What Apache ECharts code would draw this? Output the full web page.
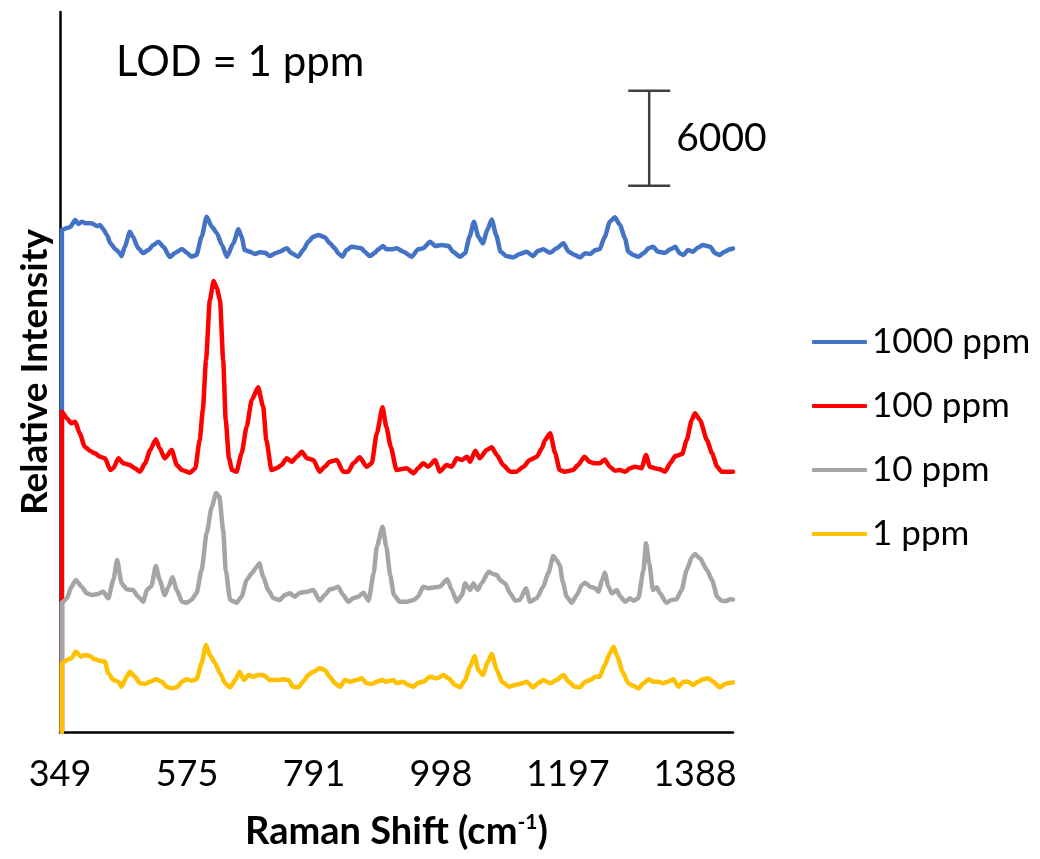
<!DOCTYPE html>
<html>
<head>
<meta charset="utf-8">
<script src="https://cdn.jsdelivr.net/npm/echarts@6/dist/echarts.min.js"></script>
<style>
  html, body { margin: 0; padding: 0; background: #fff; }
  #chart { width: 1040px; height: 859px; }
</style>
</head>
<body>
<div id="chart"></div>
<script>
// ---- Data (x = detector channel, y = relative intensity, offset spectra) ----
const tickLabels = ['349', '575', '791', '998', '1197', '1388'];
const channelsPerLabel = 200;
const lastChannel = 1060;

const seriesNames = ['1000 ppm', '100 ppm', '10 ppm', '1 ppm'];

const blue1000ppm = [[3,0],[3,31710],[11,31830],[16,31900],[24,32340],[29,32090],[34,32230],[42,32130],[50,32130],[58,31960],[63,32020],[68,31770],[74,31390],[79,30890],[87,30510],[92,30340],[97,30060],[102,30650],[110,31600],[115,31280],[123,30570],[131,30250],[139,30440],[147,30760],[155,30970],[163,30650],[173,30000],[181,30250],[192,30510],[200,30270],[207,30020],[215,30130],[223,31280],[231,32550],[239,31920],[247,31520],[255,30760],[263,30020],[273,30870],[281,31750],[286,31280],[291,30440],[299,30340],[307,30190],[315,30300],[323,30270],[331,30060],[339,30240],[346,30340],[357,30550],[365,30240],[375,30020],[383,30440],[391,30970],[399,31280],[407,31390],[417,31250],[425,30870],[433,30550],[438,30240],[445,30020],[451,30440],[459,30650],[467,30610],[475,30550],[480,30340],[488,30060],[496,30270],[501,30490],[509,30700],[514,30490],[522,30490],[530,30550],[541,30340],[554,30020],[564,30490],[572,30550],[583,30970],[591,30700],[601,30760],[612,30700],[619,30340],[630,30020],[638,30240],[645,31280],[652,32230],[659,31280],[666,30870],[673,31710],[680,32380],[687,31390],[694,30340],[703,30060],[714,29980],[724,30190],[735,30340],[745,30060],[753,30400],[761,30490],[772,30270],[782,30550],[793,30870],[801,30340],[811,30130],[819,29980],[827,30240],[835,30190],[843,30440],[850,30490],[858,31280],[866,32230],[874,32510],[882,32020],[890,31180],[895,30340],[903,30130],[911,30020],[919,30240],[927,30550],[934,30650],[942,30340],[953,30270],[961,30490],[969,30650],[976,30240],[982,30130],[989,30440],[997,30340],[1005,30610],[1013,30760],[1024,30650],[1032,30240],[1039,30130],[1047,30340],[1055,30490],[1060,30540]];

const red100ppm = [[3,0],[3,20230],[11,19810],[18,19500],[24,19600],[31,18870],[39,18020],[47,17770],[55,17600],[63,17390],[71,17290],[79,16550],[84,16660],[92,17290],[100,16970],[110,16860],[118,16660],[126,16440],[134,16970],[142,17810],[151,18490],[157,17920],[165,17290],[176,17810],[184,16860],[192,16550],[205,16380],[213,16660],[220,18440],[225,20340],[230,23500],[236,27290],[242,28490],[247,28040],[252,27290],[257,23500],[261,19710],[266,17310],[271,16550],[278,16440],[286,17600],[294,19280],[302,20970],[312,21770],[320,20550],[325,18440],[333,16550],[341,16660],[349,16860],[357,17290],[365,17070],[373,17390],[381,17700],[389,17290],[399,17180],[409,16440],[417,16760],[425,17070],[436,17180],[446,16440],[454,16440],[462,16970],[472,17350],[483,16760],[491,16970],[499,18870],[508,20510],[514,19280],[521,18000],[530,16550],[546,16660],[557,16340],[564,16660],[572,16970],[580,16760],[591,17180],[598,16440],[609,16860],[617,16760],[625,17290],[633,17180],[641,17390],[646,17070],[654,17770],[661,17290],[672,17810],[680,17980],[688,17500],[698,16860],[709,16440],[719,16440],[730,16760],[740,17180],[751,17390],[759,17920],[764,18440],[772,18870],[780,17600],[787,16550],[795,16440],[808,16550],[816,16860],[826,17390],[834,17070],[842,16970],[850,16970],[858,17220],[866,16760],[874,16500],[882,16550],[890,16440],[898,16660],[906,16760],[916,16660],[923,17500],[929,16760],[937,16660],[945,16590],[953,16440],[961,16970],[969,17430],[980,17560],[987,18440],[995,19710],[1000,20130],[1008,19710],[1019,18440],[1027,17600],[1035,16760],[1042,16440],[1060,16440]];

const gray10ppm = [[3,0],[3,8170],[11,8450],[18,9180],[25,9600],[34,9180],[42,8760],[50,8650],[60,8720],[68,8860],[76,8450],[84,9600],[90,10860],[97,9390],[105,9010],[115,8970],[123,8550],[131,8230],[137,8970],[144,9220],[151,10490],[157,9600],[165,8650],[171,9180],[177,9770],[184,8970],[192,8230],[200,8170],[207,8340],[215,8760],[223,10230],[231,12550],[239,14230],[246,15100],[251,14840],[257,12760],[261,10230],[268,8340],[278,8170],[286,8550],[294,9600],[302,10020],[310,10440],[314,10660],[320,9810],[328,8970],[336,8450],[346,8340],[354,8650],[362,8760],[370,8550],[378,8800],[389,8860],[399,8970],[409,8290],[417,8650],[425,9010],[433,9080],[438,9180],[446,8650],[454,8230],[462,8450],[470,8550],[478,8800],[486,8290],[494,10020],[499,11700],[508,12970],[514,11700],[520,9920],[526,8650],[535,8230],[546,8230],[557,8340],[564,8550],[572,9180],[580,9080],[591,9140],[598,9180],[610,9650],[617,8970],[625,8230],[633,8650],[638,9390],[646,8970],[651,9390],[658,8970],[664,9390],[675,10120],[682,9980],[688,9920],[693,9600],[701,9390],[709,8760],[717,8290],[724,8340],[734,9080],[740,8230],[751,8450],[761,9180],[769,10020],[777,11120],[782,10860],[787,10550],[792,9470],[798,8550],[806,8170],[814,8650],[822,9290],[827,9430],[835,9180],[843,9080],[848,8860],[854,9600],[858,10060],[864,9180],[869,8760],[877,8970],[882,8590],[890,8230],[898,8450],[903,8290],[911,8450],[919,10230],[923,11920],[928,10660],[934,8970],[940,9140],[945,8760],[955,8170],[963,8340],[971,8380],[979,8970],[987,10230],[995,11030],[1000,11240],[1008,10970],[1019,10230],[1027,9600],[1035,8550],[1042,8290],[1049,8270],[1055,8380],[1060,8370]];

const yellow1ppm = [[3,0],[3,4340],[11,4550],[18,4660],[25,5070],[33,4760],[39,4860],[47,4800],[55,4590],[63,4500],[71,4440],[76,3710],[84,3280],[92,3180],[97,2860],[105,3490],[110,3810],[118,3490],[126,3080],[134,3030],[142,3180],[151,3330],[160,3180],[168,2860],[176,2760],[184,2820],[192,3180],[200,3330],[207,3240],[215,3330],[223,4340],[230,5500],[236,4860],[244,4380],[252,3710],[260,3080],[268,2820],[276,3280],[283,3810],[290,3280],[297,3600],[304,3490],[312,3600],[320,3600],[331,3280],[341,3280],[352,3330],[360,3280],[367,2860],[375,2820],[383,3180],[391,3600],[399,3810],[409,4020],[417,3920],[425,3490],[433,3080],[441,2860],[449,3280],[457,3180],[467,3280],[475,3390],[483,3080],[491,3030],[499,3180],[507,3280],[514,3180],[525,3280],[530,3080],[540,3180],[549,2970],[557,2860],[564,3110],[572,3180],[583,3490],[594,3390],[604,3600],[612,3390],[622,2970],[630,2820],[638,3280],[646,4120],[653,4800],[659,3920],[666,3600],[674,4440],[680,4930],[688,3920],[696,3180],[707,2860],[717,2970],[728,3080],[735,3180],[745,2820],[753,3080],[761,3280],[772,3080],[782,3280],[793,3600],[801,3180],[811,2860],[819,2820],[827,3180],[835,3280],[843,3490],[850,3490],[858,4230],[866,4970],[872,5390],[878,4760],[886,3810],[895,3080],[903,2910],[911,2760],[919,3080],[927,3330],[934,3180],[942,3180],[950,3080],[958,3180],[966,3330],[974,2860],[982,3180],[989,3180],[997,2970],[1005,3180],[1013,3330],[1021,3390],[1029,3180],[1039,2820],[1047,3030],[1055,3110],[1060,3130]];

// scale bar: channel position, start intensity, length
const scaleBar = { channel: 928, from: 34500, length: 6000, label: '6000' };
const yMax = 45480;

const colors = ['#4472C4', '#FF0000', '#A5A5A5', '#FFC000'];
const seriesData = [blue1000ppm, red100ppm, gray10ppm, yellow1ppm];

const FONT = 'Lato, "Open Sans", "Noto Sans", sans-serif';

const chart = echarts.init(document.getElementById('chart'), null, { renderer: 'canvas' });

const lineSeries = seriesNames.map((name, i) => ({
  name,
  type: 'line',
  data: seriesData[i],
  showSymbol: false,
  symbol: 'none',
  smooth: 0.2,
  smoothMonotone: 'x',
  lineStyle: { color: colors[i], width: 4.5, join: 'round', cap: 'round' },
  itemStyle: { color: colors[i] },
  emphasis: { disabled: true },
  animation: false,
  z: 2 + i
}));

const barSeries = {
  type: 'custom',
  name: 'scalebar',
  silent: true,
  animation: false,
  data: [[scaleBar.channel, scaleBar.from, scaleBar.from + scaleBar.length]],
  renderItem: function (params, api) {
    const p0 = api.coord([api.value(0), api.value(1)]);
    const p1 = api.coord([api.value(0), api.value(2)]);
    const hw = 21;
    const style = { stroke: '#404040', lineWidth: 2.5 };
    return {
      type: 'group',
      children: [
        { type: 'line', shape: { x1: p0[0], y1: p0[1], x2: p1[0], y2: p1[1] }, style },
        { type: 'line', shape: { x1: p0[0] - hw, y1: p0[1], x2: p0[0] + hw, y2: p0[1] }, style },
        { type: 'line', shape: { x1: p1[0] - hw, y1: p1[1], x2: p1[0] + hw, y2: p1[1] }, style },
        { type: 'text', style: { x: p0[0] + 27, y: (p0[1] + p1[1]) / 2, text: scaleBar.label,
            fill: '#000', font: '39px ' + FONT, verticalAlign: 'middle', align: 'left' } }
      ]
    };
  }
};

const option = {
  backgroundColor: '#fff',
  animation: false,
  title: {
    text: 'LOD = 1 ppm',
    left: 111, top: 36,
    textStyle: { fontFamily: FONT, fontSize: 42, fontWeight: 'normal', color: '#000' }
  },
  legend: {
    orient: 'vertical',
    left: 812, top: 322,
    icon: 'roundRect',
    itemWidth: 55, itemHeight: 4, itemGap: 24,
    padding: 0,
    data: seriesNames,
    textStyle: { fontFamily: FONT, fontSize: 35, color: '#000', lineHeight: 40 },
    selectedMode: false
  },
  grid: { left: 60, right: 307, top: 12, bottom: 127, containLabel: false },
  xAxis: {
    type: 'value',
    min: 0, max: lastChannel, interval: channelsPerLabel,
    name: 'Raman Shift (cm{sup|-1})',
    nameLocation: 'middle', nameGap: 80,
    nameTextStyle: {
      fontFamily: FONT, fontSize: 38, fontWeight: 'bold', color: '#000',
      rich: { sup: { fontFamily: FONT, fontSize: 21, fontWeight: 'bold', verticalAlign: 'top', padding: [0, 0, 18, 0] } }
    },
    axisLine: { show: true, onZero: false, lineStyle: { color: '#000', width: 2.5 } },
    axisTick: { show: false },
    splitLine: { show: false },
    axisLabel: {
      margin: 24,
      fontFamily: FONT, fontSize: 36, color: '#000',
      showMaxLabel: false,
      formatter: function (v) {
        const idx = Math.round(v / channelsPerLabel);
        return (v % channelsPerLabel === 0 && tickLabels[idx]) ? tickLabels[idx] : '';
      }
    }
  },
  yAxis: {
    type: 'value',
    min: 0, max: yMax,
    name: 'Relative Intensity',
    nameLocation: 'middle', nameGap: 6,
    nameTextStyle: { fontFamily: FONT, fontSize: 37, fontWeight: 'bold', color: '#000' },
    axisLine: { show: true, lineStyle: { color: '#000', width: 2.5 } },
    axisTick: { show: false },
    axisLabel: { show: false },
    splitLine: { show: false }
  },
  series: [...lineSeries, barSeries]
};

chart.setOption(option);
</script>
</body>
</html>
